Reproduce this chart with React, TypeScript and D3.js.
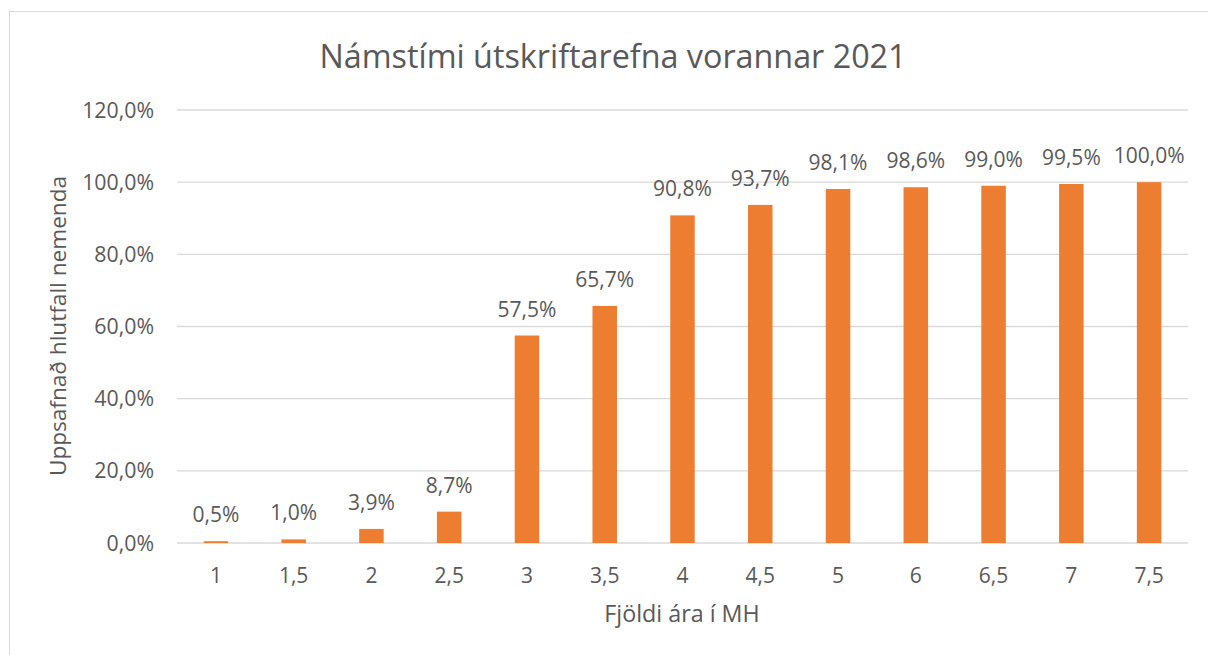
import React from 'react';
import * as d3 from 'd3';

// Data
const categories = ['1', '1,5', '2', '2,5', '3', '3,5', '4', '4,5', '5', '6', '6,5', '7', '7,5'];
const cumulativeShare = [0.5, 1.0, 3.9, 8.7, 57.5, 65.7, 90.8, 93.7, 98.1, 98.6, 99.0, 99.5, 100.0];
const yTicks = [0, 20, 40, 60, 80, 100, 120];

const W = 1208;
const H = 655;
const FONT = '"Open Sans", sans-serif';
const TEXT = '#595959';
const GRID = '#D9D9D9';
const BAR = '#ED7D31';

const fmt = (v: number) => v.toFixed(1).replace('.', ',') + '%';

export default function App() {
  const x = d3.scaleBand<string>()
    .domain(categories)
    .range([177, 1188])
    .paddingInner(0.685)
    .paddingOuter(0.3425);

  const y = d3.scaleLinear().domain([0, 120]).range([543, 110]);

  return (
    <svg
      width={W}
      height={H}
      style={{ position: 'absolute', left: 0, top: 0, background: '#fff' }}
      fontFamily={FONT}
    >
      {/* chart frame, runs off the right and bottom edges */}
      <rect x={9.5} y={11.5} width={W + 20} height={H + 20} fill="#fff" stroke={GRID} strokeWidth={1} />

      <text x={613} y={68} textAnchor="middle" fontSize={32.3} fill={TEXT}>
        Námstími útskriftarefna vorannar 2021
      </text>

      {/* gridlines + y tick labels */}
      {yTicks.map(t => (
        <g key={t}>
          <line x1={177} x2={1188} y1={y(t)} y2={y(t)} stroke={GRID} strokeWidth={1.4} />
          <text x={154} y={y(t) + 7.5} textAnchor="end" fontSize={21.3} fill={TEXT}>
            {fmt(t)}
          </text>
        </g>
      ))}

      {/* bars + data labels */}
      {categories.map((c, i) => {
        const v = cumulativeShare[i];
        const bx = x(c) as number;
        return (
          <g key={c}>
            <rect x={bx} y={y(v)} width={x.bandwidth()} height={y(0) - y(v)} fill={BAR} />
            <text
              x={bx + x.bandwidth() / 2}
              y={y(v) - 19}
              textAnchor="middle"
              fontSize={21}
              fill={TEXT}
            >
              {fmt(v)}
            </text>
            <text
              x={bx + x.bandwidth() / 2}
              y={583}
              textAnchor="middle"
              fontSize={21}
              fill={TEXT}
            >
              {c}
            </text>
          </g>
        );
      })}

      <text x={682} y={622} textAnchor="middle" fontSize={23.3} fill={TEXT}>
        Fjöldi ára í MH
      </text>

      <text
        transform="translate(66,326) rotate(-90)"
        textAnchor="middle"
        fontSize={22.6}
        fill={TEXT}
      >
        Uppsafnað hlutfall nemenda
      </text>
    </svg>
  );
}
